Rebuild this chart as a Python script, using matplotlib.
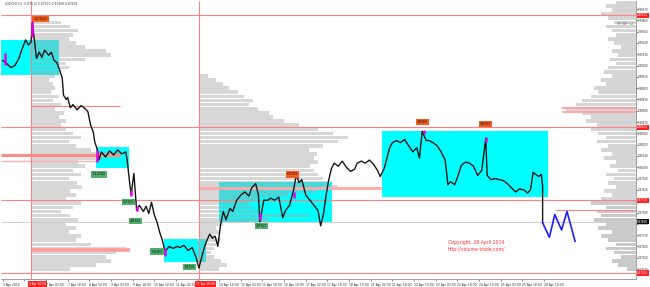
import numpy as np
import matplotlib.pyplot as plt
from matplotlib.patches import Rectangle

# USDCHF H1, 3 Apr - 28 Apr 2014; x = hourly bar index, y = price
path_bar = [1, 4, 7, 10, 13, 15, 18, 20, 22, 23, 24, 26, 28, 30, 32, 35, 37, 39, 41, 43,
            45, 46, 48, 49, 51, 53, 56, 59, 62, 64, 66, 68, 69, 71, 72, 74, 77, 80, 83, 86,
            89, 92, 93, 95, 96, 98, 100, 102, 105, 107, 109, 111, 113, 115, 117, 119, 121, 124, 127, 130,
            132, 135, 138, 141, 144, 146, 148, 150, 152, 154, 156, 158, 160, 162, 164, 166, 169, 171, 174, 177,
            180, 183, 185, 188, 190, 191, 194, 197, 199, 202, 205, 208, 210, 213, 216, 218, 220, 222, 225, 228,
            231, 234, 236, 238, 240, 242, 244, 246, 249, 252, 255, 258, 261, 263, 266, 269, 272, 275, 278, 280,
            283, 285, 287, 289, 292, 295, 298, 301, 304, 307, 309, 311, 314, 316, 319, 322, 325, 328, 330, 332,
            335, 337, 340, 343, 346, 349, 352, 355, 358, 359, 362, 365, 368, 371, 374, 377, 380, 383, 386, 389,
            391, 393, 395, 397, 399, 400, 400]
path_price = [0.8907, 0.8904, 0.8900, 0.8902, 0.8909, 0.8917, 0.8927, 0.8922, 0.8925, 0.8944,
              0.8932, 0.8909, 0.8915, 0.8910, 0.8917, 0.8912, 0.8915, 0.8907, 0.8905, 0.8898,
              0.8890, 0.8873, 0.8869, 0.8871, 0.8861, 0.8864, 0.8859, 0.8863, 0.8860, 0.8857,
              0.8844, 0.8837, 0.8828, 0.8820, 0.8810, 0.8818, 0.8813, 0.8819, 0.8815, 0.8820,
              0.8816, 0.8818, 0.8810, 0.8786, 0.8777, 0.8797, 0.8761, 0.8766, 0.8760, 0.8765,
              0.8758, 0.8769, 0.8757, 0.8750, 0.8740, 0.8732, 0.8721, 0.8726, 0.8724, 0.8726,
              0.8725, 0.8727, 0.8722, 0.8725, 0.8715, 0.8705, 0.8715, 0.8725, 0.8732, 0.8738,
              0.8734, 0.8736, 0.8726, 0.8747, 0.8760, 0.8752, 0.8763, 0.8760, 0.8771, 0.8776,
              0.8779, 0.8775, 0.8783, 0.8787, 0.8776, 0.8750, 0.8771, 0.8771, 0.8773, 0.8771,
              0.8774, 0.8754, 0.8761, 0.8766, 0.8781, 0.8796, 0.8788, 0.8791, 0.8776, 0.8771,
              0.8766, 0.8761, 0.8746, 0.8757, 0.8776, 0.8791, 0.8802, 0.8807, 0.8804, 0.8809,
              0.8803, 0.8799, 0.8801, 0.8807, 0.8809, 0.8807, 0.8810, 0.8806, 0.8800, 0.8794,
              0.8802, 0.8812, 0.8822, 0.8827, 0.8829, 0.8827, 0.8830, 0.8824, 0.8818, 0.8822,
              0.8812, 0.8838, 0.8829, 0.8829, 0.8827, 0.8824, 0.8818, 0.8810, 0.8786, 0.8789,
              0.8786, 0.8793, 0.8805, 0.8808, 0.8807, 0.8804, 0.8795, 0.8800, 0.8831, 0.8795,
              0.8791, 0.8792, 0.8791, 0.8790, 0.8787, 0.8783, 0.8779, 0.8782, 0.8781, 0.8778,
              0.8781, 0.8798, 0.8796, 0.8794, 0.8796, 0.8785, 0.8749]

# forecast zigzag
fc_bar = [400, 405, 409, 414, 418, 424]
fc_price = [0.8749, 0.8735, 0.8757, 0.8742, 0.8760, 0.8731]

# volume profiles: lengths in bars, bins of 0.0004 from 0.8704 upwards
prof_base = 0.8704
prof_bin = 0.0004
left_start = 22
left_prof = [29, 48, 59, 55, 63, 70, 44, 33, 37, 28, 33, 26, 35, 29, 22, 31, 37, 26, 33, 29,
             38, 34, 28, 37, 31, 40, 35, 52, 65, 44, 33, 28, 37, 31, 26, 22, 26, 21, 24, 18,
             22, 16, 21, 15, 18, 16, 13, 18, 22, 28, 26, 40, 59, 55, 40, 33, 28, 31, 35, 29,
             22, 13]
mid_start = 146
mid_prof = [15, 21, 16, 11, 9, 11, 13, 16, 11, 15, 13, 18, 52, 81, 44, 40, 37, 44, 66, 88,
            103, 96, 92, 88, 85, 82, 88, 85, 87, 81, 92, 103, 110, 99, 88, 74, 63, 55, 52, 44,
            37, 40, 33, 29, 22, 18, 13, 7]
right_prof = [7, 13, 18, 11, 16, 22, 15, 21, 26, 18, 28, 22, 31, 26, 29, 22, 33, 26, 18, 24,
              15, 21, 16, 22, 13, 19, 15, 24, 18, 26, 21, 29, 22, 28, 33, 29, 37, 33, 40, 52,
              44, 40, 33, 28, 31, 22, 26, 18, 24, 21, 15, 19, 13, 18, 11, 16, 21, 15, 18, 22,
              16, 21, 26, 18, 22, 15]
right_split = 0.8771

# boxes (bar from, bar to, price low, price high)
box_x0 = [0, 70, 120, 161, 281]
box_x1 = [43, 94, 151, 244, 404]
box_lo = [0.8893, 0.8802, 0.8711, 0.8750, 0.8774]
box_hi = [0.8927, 0.8823, 0.8733, 0.8789, 0.8838]

# volume labels
lab_text = ["23350", "11200", "5700", "4950", "5100", "7450", "4700", "6700", "3400", "4400"]
lab_bar = [29, 72, 94, 99, 115, 139, 192, 215, 311, 358]
lab_price = [0.8947, 0.8796, 0.8769, 0.8751, 0.8721, 0.8706, 0.8746, 0.8796, 0.8847, 0.8845]
lab_kind = ["top", "bot", "bot", "bot", "bot", "bot", "bot", "top", "top", "top"]

# high-volume candles
mag_bar = [3, 23, 71, 96, 100, 121, 191, 216, 312, 358]
mag_lo = [0.8903, 0.8930, 0.8808, 0.8775, 0.8760, 0.8717, 0.8752, 0.8773, 0.8835, 0.8828]
mag_hi = [0.8914, 0.8944, 0.8820, 0.8781, 0.8765, 0.8724, 0.8759, 0.8779, 0.8839, 0.8832]

# levels
full_levels = [0.8951, 0.8842, 0.8771, 0.8700]
vlines = [22, 146]
vline_text = ["4 Apr 16:00", "11 Apr 19:00"]
bid = 0.8750

tick_labels = ["3 Apr 2014", "4 Apr 10:00", "7 Apr 02:00", "7 Apr 18:00", "8 Apr 10:00",
               "9 Apr 02:00", "9 Apr 18:00", "10 Apr 10:00", "11 Apr 02:00", "11 Apr 18:00",
               "14 Apr 10:00", "15 Apr 02:00", "15 Apr 18:00", "16 Apr 10:00", "17 Apr 02:00",
               "17 Apr 18:00", "18 Apr 10:00", "21 Apr 02:00", "21 Apr 18:00", "22 Apr 10:00",
               "23 Apr 02:00", "23 Apr 18:00", "24 Apr 10:00", "25 Apr 02:00", "25 Apr 18:00",
               "28 Apr 10:00"]
hidden_ticks = ["4 Apr 10:00", "11 Apr 18:00"]  # covered by the line labels
price_ticks = [0.8704 + 0.0011 * k for k in range(24)]

fig = plt.figure(figsize=(6.5, 2.87), dpi=100)
ax = fig.add_axes([0.002, 1 - 279 / 287, 636 / 650 - 0.002, 278 / 287])
ymin, ymax = 0.86943, 0.89648
xmax = 469
ax.set_xlim(0, xmax)
ax.set_ylim(ymin, ymax)

for x0, x1, lo, hi in zip(box_x0, box_x1, box_lo, box_hi):
    ax.add_patch(Rectangle((x0, lo), x1 - x0, hi - lo, color="#00ffff", lw=0, zorder=1))

lv = prof_base + prof_bin * np.arange(len(left_prof))
ax.barh(lv, left_prof, height=prof_bin * 0.9, left=left_start, color="#a8a8a8",
        alpha=0.45, lw=0, zorder=2)
mv = prof_base + prof_bin * np.arange(len(mid_prof))
ax.barh(mv, mid_prof, height=prof_bin * 0.9, left=mid_start, color="#a8a8a8",
        alpha=0.45, lw=0, zorder=2)
rv = prof_base + prof_bin * np.arange(len(right_prof))
rl = np.array(right_prof)
rcol = ["#a0a0a0" if p < right_split else "#b4b4b4" for p in rv]
ax.barh(rv, rl, height=prof_bin * 0.9, left=xmax - rl, color=rcol, alpha=0.55, lw=0, zorder=2)

# highlighted (red) profile rows
ax.hlines(0.8815, 0, 88, color="#ff8a8a", lw=2.2, zorder=3)
ax.hlines(0.8809, 0, 70, color="#ffb0b0", lw=1.0, zorder=3)
ax.hlines(0.8723, 22, 95, color="#ff9a9a", lw=2.6, zorder=3)
ax.hlines(0.8783, 146, 281, color="#ffa8a8", lw=2.0, zorder=3)
ax.hlines([0.8861, 0.8857], 414, xmax, color="#ff9a9a", lw=1.2, zorder=3)

ax.hlines(full_levels, 0, xmax, color="#ff8080", lw=0.8, zorder=3)
ax.hlines(0.8863, 22, 88, color="#ff8080", lw=0.8, zorder=3)
ax.hlines(0.8761, 410, xmax, color="#ff8080", lw=0.8, zorder=3)
ax.hlines(bid, 0, xmax, color="#c8c8c8", lw=0.6, zorder=3)
ax.vlines(vlines, ymin, ymax, color="#ff8080", lw=0.8, zorder=3)

ax.plot(path_bar, path_price, color="#151515", lw=1.0, zorder=4)
ax.vlines(mag_bar, mag_lo, mag_hi, color="#e600e6", lw=1.8, zorder=5)
ax.plot(fc_bar, fc_price, color="#1e1eff", lw=1.2, zorder=4)

for t, b, p, k in zip(lab_text, lab_bar, lab_price, lab_kind):
    fcol = "#f4591e" if k == "top" else "#4caf6a"
    ax.text(b, p, t, fontsize=3.2, ha="center", va="center", color="#202020", zorder=6,
            bbox=dict(boxstyle="square,pad=0.25", fc=fcol, ec="none"))

ax.text(351, 0.8730, "Copyright, 28 April 2014", fontsize=3.3, color="#ff3030",
        ha="center", va="center", zorder=6)
ax.text(351, 0.8723, "http://volume-trade.com/", fontsize=3.3, color="#ff3030",
        ha="center", va="center", zorder=6)
ax.text(3, 0.8962, "USDCHF,H1  0.87512 0.87530 0.87488 0.87498", fontsize=2.2,
        color="#404040", va="center", zorder=6)
ax.text(455, 0.8942, "VP OBT <2", fontsize=2.2, color="#606060", va="center", zorder=6)

# axes
for s in ["left", "top"]:
    ax.spines[s].set_visible(False)
for s in ["right", "bottom"]:
    ax.spines[s].set_color("#909090")
    ax.spines[s].set_linewidth(0.6)
ax.yaxis.tick_right()
ax.set_yticks(price_ticks)
ax.set_yticklabels([f"{p:.5f}" for p in price_ticks])
ax.tick_params(axis="y", labelsize=1.9, length=1.2, width=0.4, pad=0.5, colors="#303030")
ax.set_xticks([1 + 16 * k for k in range(len(tick_labels))])
ax.set_xticklabels(tick_labels, ha="left")
for lab in ax.get_xticklabels():
    if lab.get_text() in hidden_ticks:
        lab.set_visible(False)
ax.tick_params(axis="x", labelsize=2.2, length=1.5, width=0.4, pad=1.2, colors="#303030")

ytr = ax.get_yaxis_transform()
for p in full_levels:
    ax.text(1.002, p, f"{p:.5f}", transform=ytr, fontsize=1.9, color="white", va="center",
            ha="left", clip_on=False, zorder=7,
            bbox=dict(boxstyle="square,pad=0.25", fc="#ff2020", ec="none"))
ax.text(1.002, bid, f"{0.87498:.5f}", transform=ytr, fontsize=1.9, color="white", va="center",
        ha="left", clip_on=False, zorder=7,
        bbox=dict(boxstyle="square,pad=0.25", fc="#101010", ec="none"))
xtr = ax.get_xaxis_transform()
for b, t in zip(vlines, vline_text):
    ax.text(b + 5, -0.012, t, transform=xtr, fontsize=2.1, color="white", ha="center", va="top",
            clip_on=False, zorder=7, bbox=dict(boxstyle="square,pad=0.35", fc="#ff2020", ec="none"))

fig.savefig("out.png", dpi=100, facecolor="white")
